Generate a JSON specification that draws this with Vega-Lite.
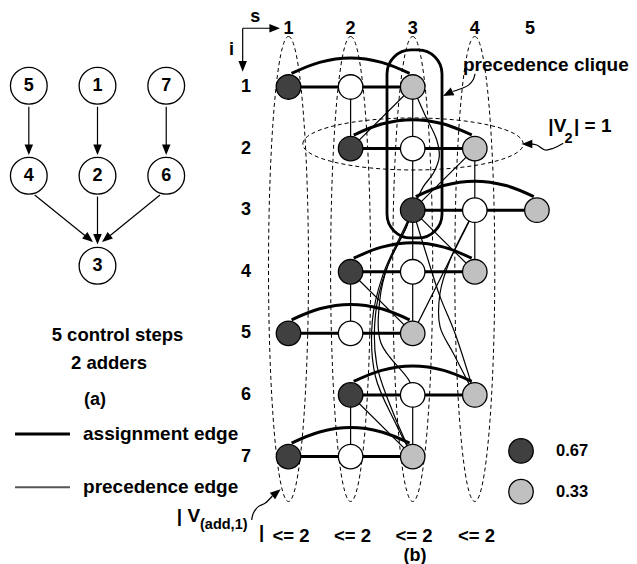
{
  "$schema": "https://vega.github.io/schema/vega-lite/v6.json",
  "width": 637,
  "height": 564,
  "padding": 0,
  "autosize": {"type": "none"},
  "background": "white",
  "config": {"view": {"stroke": null}, "text": {"font": "Liberation Sans", "fontWeight": "bold", "color": "black"}},
  "datasets": {
    "grid": [
      {"x": 1, "y": 1, "k": "dark"}, {"x": 2, "y": 1, "k": "white"}, {"x": 3, "y": 1, "k": "gray"},
      {"x": 2, "y": 2, "k": "dark"}, {"x": 3, "y": 2, "k": "white"}, {"x": 4, "y": 2, "k": "gray"},
      {"x": 3, "y": 3, "k": "dark"}, {"x": 4, "y": 3, "k": "white"}, {"x": 5, "y": 3, "k": "gray"},
      {"x": 2, "y": 4, "k": "dark"}, {"x": 3, "y": 4, "k": "white"}, {"x": 4, "y": 4, "k": "gray"},
      {"x": 1, "y": 5, "k": "dark"}, {"x": 2, "y": 5, "k": "white"}, {"x": 3, "y": 5, "k": "gray"},
      {"x": 2, "y": 6, "k": "dark"}, {"x": 3, "y": 6, "k": "white"}, {"x": 4, "y": 6, "k": "gray"},
      {"x": 1, "y": 7, "k": "dark"}, {"x": 2, "y": 7, "k": "white"}, {"x": 3, "y": 7, "k": "gray"},
      {"x": 4.744, "y": 6.909, "k": "dark"}, {"x": 4.744, "y": 7.57, "k": "gray"}
    ],
    "dag": [
      {"x": -3.182, "y": 0.981, "t": "5"}, {"x": -2.076, "y": 0.981, "t": "1"}, {"x": -0.969, "y": 0.981, "t": "7"},
      {"x": -3.182, "y": 2.442, "t": "4"}, {"x": -2.076, "y": 2.442, "t": "2"}, {"x": -0.969, "y": 2.442, "t": "6"},
      {"x": -2.076, "y": 3.903, "t": "3"}
    ],
    "thick": [
      {"x": 1, "y": 1, "x2": 3, "y2": 1}, {"x": 2, "y": 2, "x2": 4, "y2": 2}, {"x": 3, "y": 3, "x2": 5, "y2": 3},
      {"x": 2, "y": 4, "x2": 4, "y2": 4}, {"x": 1, "y": 5, "x2": 3, "y2": 5}, {"x": 2, "y": 6, "x2": 4, "y2": 6},
      {"x": 1, "y": 7, "x2": 3, "y2": 7},
      {"x": -3.404, "y": 6.633, "x2": -2.519, "y2": 6.633}
    ],
    "thin": [
      {"x": 2, "y": 1, "x2": 2, "y2": 2}, {"x": 3, "y": 1, "x2": 3, "y2": 2}, {"x": 3, "y": 1, "x2": 2, "y2": 2},
      {"x": 3, "y": 2, "x2": 3, "y2": 3}, {"x": 4, "y": 2, "x2": 4, "y2": 3}, {"x": 4, "y": 2, "x2": 3, "y2": 3},
      {"x": 3, "y": 3, "x2": 3, "y2": 4}, {"x": 3, "y": 3, "x2": 4, "y2": 4}, {"x": 4, "y": 3, "x2": 4, "y2": 4},
      {"x": 2, "y": 4, "x2": 2, "y2": 5}, {"x": 2, "y": 4, "x2": 3, "y2": 5}, {"x": 3, "y": 4, "x2": 3, "y2": 5},
      {"x": 4, "y": 3, "x2": 3, "y2": 5},
      {"x": 2, "y": 6, "x2": 2, "y2": 7}, {"x": 2, "y": 6, "x2": 3, "y2": 7}, {"x": 3, "y": 6, "x2": 3, "y2": 7},
      {"x": 0.262, "y": 0.047, "x2": 0.8, "y2": 0.047}, {"x": 0.262, "y": 0.047, "x2": 0.262, "y2": 0.7},
      {"x": -3.182, "y": 1.321, "x2": -3.182, "y2": 2.07}, {"x": -2.076, "y": 1.321, "x2": -2.076, "y2": 2.07},
      {"x": -0.969, "y": 1.321, "x2": -0.969, "y2": 2.07},
      {"x": -3.087, "y": 2.753, "x2": -2.17, "y2": 3.5}, {"x": -2.076, "y": 2.779, "x2": -2.076, "y2": 3.52},
      {"x": -1.069, "y": 2.753, "x2": -1.98, "y2": 3.5}
    ],
    "legline": [{"x": -3.404, "y": 7.498, "x2": -2.519, "y2": 7.498}],
    "curves": [
      {"id": "c1", "k": 0, "x": 3.0, "y": 1.0}, {"id": "c1", "k": 1, "x": 3.198, "y": 1.455}, {"id": "c1", "k": 2, "x": 3.387, "y": 1.86},
      {"id": "c1", "k": 3, "x": 3.428, "y": 2.131}, {"id": "c1", "k": 4, "x": 3.332, "y": 2.401}, {"id": "c1", "k": 5, "x": 3.171, "y": 2.618},
      {"id": "c1", "k": 6, "x": 3.0, "y": 3.0},
      {"id": "c2", "k": 0, "x": 3.0, "y": 3.0}, {"id": "c2", "k": 1, "x": 2.903, "y": 3.268}, {"id": "c2", "k": 2, "x": 2.6, "y": 3.9},
      {"id": "c2", "k": 3, "x": 2.47, "y": 4.46}, {"id": "c2", "k": 4, "x": 2.49, "y": 5.16}, {"id": "c2", "k": 5, "x": 2.95, "y": 5.78},
      {"id": "c2", "k": 6, "x": 3.0, "y": 6.0},
      {"id": "c3", "k": 0, "x": 3.0, "y": 3.0}, {"id": "c3", "k": 1, "x": 2.88, "y": 3.3}, {"id": "c3", "k": 2, "x": 2.56, "y": 4.0},
      {"id": "c3", "k": 3, "x": 2.4, "y": 4.7}, {"id": "c3", "k": 4, "x": 2.42, "y": 5.5}, {"id": "c3", "k": 5, "x": 2.69, "y": 6.3},
      {"id": "c3", "k": 6, "x": 3.0, "y": 7.0},
      {"id": "c6", "k": 0, "x": 3.0, "y": 3.0}, {"id": "c6", "k": 1, "x": 2.86, "y": 3.3}, {"id": "c6", "k": 2, "x": 2.52, "y": 4.05},
      {"id": "c6", "k": 3, "x": 2.35, "y": 4.8}, {"id": "c6", "k": 4, "x": 2.4, "y": 5.7}, {"id": "c6", "k": 5, "x": 2.72, "y": 6.45},
      {"id": "c6", "k": 6, "x": 3.0, "y": 7.0},
      {"id": "c4", "k": 0, "x": 3.0, "y": 3.0}, {"id": "c4", "k": 1, "x": 3.198, "y": 3.646}, {"id": "c4", "k": 2, "x": 3.44, "y": 4.404},
      {"id": "c4", "k": 3, "x": 3.681, "y": 4.998}, {"id": "c4", "k": 4, "x": 4.0, "y": 6.0},
      {"id": "c5", "k": 0, "x": 4.0, "y": 3.0}, {"id": "c5", "k": 1, "x": 3.601, "y": 3.808}, {"id": "c5", "k": 2, "x": 3.44, "y": 4.349},
      {"id": "c5", "k": 3, "x": 3.44, "y": 4.891}, {"id": "c5", "k": 4, "x": 3.654, "y": 5.323}, {"id": "c5", "k": 5, "x": 4.0, "y": 6.0},
      {"id": "w1", "k": 0, "x": 4.003, "y": 0.789}, {"id": "w1", "k": 1, "x": 3.976, "y": 0.88}, {"id": "w1", "k": 2, "x": 3.9, "y": 0.97},
      {"id": "w1", "k": 3, "x": 3.8, "y": 1.02}, {"id": "w1", "k": 4, "x": 3.65, "y": 1.07},
      {"id": "w2", "k": 0, "x": 5.425, "y": 1.914}, {"id": "w2", "k": 1, "x": 5.264, "y": 1.995}, {"id": "w2", "k": 2, "x": 5.131, "y": 2.023},
      {"id": "w2", "k": 3, "x": 4.997, "y": 1.942}, {"id": "w2", "k": 4, "x": 4.9, "y": 1.925},
      {"id": "w3", "k": 0, "x": 0.407, "y": 8.029}, {"id": "w3", "k": 1, "x": 0.433, "y": 7.92}, {"id": "w3", "k": 2, "x": 0.514, "y": 7.813},
      {"id": "w3", "k": 3, "x": 0.622, "y": 7.758}, {"id": "w3", "k": 4, "x": 0.74, "y": 7.64}
    ],
    "arcs": [
      {"id": "r1", "k": 0, "x": 1.05, "y": 0.78}, {"id": "r1", "k": 1, "x": 1.5, "y": 0.6}, {"id": "r1", "k": 2, "x": 2, "y": 0.53}, {"id": "r1", "k": 3, "x": 2.5, "y": 0.6}, {"id": "r1", "k": 4, "x": 2.95, "y": 0.78},
      {"id": "r2", "k": 0, "x": 2.05, "y": 1.78}, {"id": "r2", "k": 1, "x": 2.5, "y": 1.6}, {"id": "r2", "k": 2, "x": 3, "y": 1.53}, {"id": "r2", "k": 3, "x": 3.5, "y": 1.6}, {"id": "r2", "k": 4, "x": 3.95, "y": 1.78},
      {"id": "r3", "k": 0, "x": 3.05, "y": 2.78}, {"id": "r3", "k": 1, "x": 3.5, "y": 2.6}, {"id": "r3", "k": 2, "x": 4, "y": 2.53}, {"id": "r3", "k": 3, "x": 4.5, "y": 2.6}, {"id": "r3", "k": 4, "x": 4.95, "y": 2.78},
      {"id": "r4", "k": 0, "x": 2.05, "y": 3.78}, {"id": "r4", "k": 1, "x": 2.5, "y": 3.6}, {"id": "r4", "k": 2, "x": 3, "y": 3.53}, {"id": "r4", "k": 3, "x": 3.5, "y": 3.6}, {"id": "r4", "k": 4, "x": 3.95, "y": 3.78},
      {"id": "r5", "k": 0, "x": 1.05, "y": 4.78}, {"id": "r5", "k": 1, "x": 1.5, "y": 4.6}, {"id": "r5", "k": 2, "x": 2, "y": 4.53}, {"id": "r5", "k": 3, "x": 2.5, "y": 4.6}, {"id": "r5", "k": 4, "x": 2.95, "y": 4.78},
      {"id": "r6", "k": 0, "x": 2.05, "y": 5.78}, {"id": "r6", "k": 1, "x": 2.5, "y": 5.6}, {"id": "r6", "k": 2, "x": 3, "y": 5.53}, {"id": "r6", "k": 3, "x": 3.5, "y": 5.6}, {"id": "r6", "k": 4, "x": 3.95, "y": 5.78},
      {"id": "r7", "k": 0, "x": 1.05, "y": 6.78}, {"id": "r7", "k": 1, "x": 1.5, "y": 6.6}, {"id": "r7", "k": 2, "x": 2, "y": 6.53}, {"id": "r7", "k": 3, "x": 2.5, "y": 6.6}, {"id": "r7", "k": 4, "x": 2.95, "y": 6.78}
    ],
    "heads": [
      {"x": -3.182, "y": 2.104, "dir": 0}, {"x": -2.076, "y": 2.104, "dir": 0}, {"x": -0.969, "y": 2.104, "dir": 0},
      {"x": -2.148, "y": 3.516, "dir": 309}, {"x": -2.076, "y": 3.557, "dir": 0}, {"x": -2.003, "y": 3.516, "dir": 51},
      {"x": 0.863, "y": 0.047, "dir": 270}, {"x": 0.262, "y": 0.752, "dir": 0},
      {"x": 3.488, "y": 1.146, "dir": 64}, {"x": 4.755, "y": 1.925, "dir": 90}, {"x": 0.874, "y": 7.531, "dir": 231}
    ],
    "ellv": [{"x": 1, "y": 3.955}, {"x": 2, "y": 3.955}, {"x": 3, "y": 3.955}, {"x": 4, "y": 3.955}],
    "ellh": [{"x": 3.005, "y": 1.925}],
    "clique": [{"x": 2.586, "x2": 3.472, "y": 0.399, "y2": 3.451}],
    "t18c": [
      {"x": 1, "y": 0.063, "t": "1"}, {"x": 2, "y": 0.063, "t": "2"}, {"x": 3, "y": 0.063, "t": "3"}, {"x": 4, "y": 0.063, "t": "4"}, {"x": 4.889, "y": 0.063, "t": "5"},
      {"x": 0.316, "y": 1, "t": "1"}, {"x": 0.316, "y": 2, "t": "2"}, {"x": 0.316, "y": 3, "t": "3"}, {"x": 0.316, "y": 4, "t": "4"},
      {"x": 0.316, "y": 5, "t": "5"}, {"x": 0.316, "y": 6, "t": "6"}, {"x": 0.316, "y": 7, "t": "7"},
      {"x": 0.465, "y": -0.141, "t": "s"}, {"x": 0.082, "y": 0.399, "t": "i"},
      {"x": -3.182, "y": 0.981, "t": "5"}, {"x": -2.076, "y": 0.981, "t": "1"}, {"x": -0.969, "y": 0.981, "t": "7"},
      {"x": -3.182, "y": 2.442, "t": "4"}, {"x": -2.076, "y": 2.442, "t": "2"}, {"x": -0.969, "y": 2.442, "t": "6"},
      {"x": -2.076, "y": 3.903, "t": "3"},
      {"x": 3.037, "y": 8.615, "t": "(b)"}, {"x": -2.116, "y": 6.081, "t": "(a)"}
    ],
    "t19c": [
      {"x": -1.754, "y": 5.026, "t": "5 control steps"}, {"x": -1.89, "y": 5.476, "t": "2 adders"},
      {"x": 1.04, "y": 8.29, "t": "<= 2"}, {"x": 2.031, "y": 8.29, "t": "<= 2"}, {"x": 3.021, "y": 8.29, "t": "<= 2"}, {"x": 4.027, "y": 8.29, "t": "<= 2"},
      {"x": 0.568, "y": 8.219, "t": "|"}
    ],
    "t19l": [
      {"x": 3.81, "y": 0.643, "t": "precedence clique"},
      {"x": -2.309, "y": 6.633, "t": "assignment edge"}, {"x": -2.309, "y": 7.498, "t": "precedence edge"},
      {"x": 5.184, "y": 1.633, "t": "|V"}, {"x": 5.597, "y": 1.633, "t": "| = 1"},
      {"x": -0.799, "y": 7.964, "t": "| V"}
    ],
    "tsub": [{"x": 5.444, "y": 1.844, "t": "2"}, {"x": -0.425, "y": 8.11, "t": "(add,1)"}],
    "t16l": [{"x": 5.307, "y": 6.909, "t": "0.67"}, {"x": 5.307, "y": 7.57, "t": "0.33"}]
  },
  "encoding": {
    "x": {"field": "x", "type": "quantitative", "scale": {"domain": [-3.646, 6.612], "nice": false, "zero": false}, "axis": null},
    "y": {"field": "y", "type": "quantitative", "scale": {"domain": [-0.412, 8.744], "nice": false, "zero": false, "reverse": true}, "axis": null}
  },
  "layer": [
    {"data": {"name": "ellv"}, "mark": {"type": "point", "shape": "M0,-1C0.0475,-1 0.086,-0.5523 0.086,0C0.086,0.5523 0.0475,1 0,1C-0.0475,1 -0.086,0.5523 -0.086,0C-0.086,-0.5523 -0.0475,-1 0,-1Z", "size": 216225, "filled": false, "color": "black", "strokeWidth": 1, "strokeDash": [4, 3], "opacity": 1}},
    {"data": {"name": "ellh"}, "mark": {"type": "point", "shape": "M-1,0C-1,-0.1303 -0.5523,-0.236 0,-0.236C0.5523,-0.236 1,-0.1303 1,0C1,0.1303 0.5523,0.236 0,0.236C-0.5523,0.236 -1,0.1303 -1,0Z", "size": 48576, "filled": false, "color": "black", "strokeWidth": 1, "strokeDash": [4, 3], "opacity": 1}},
    {"data": {"name": "thin"}, "mark": {"type": "rule", "color": "black", "strokeWidth": 1.2}, "encoding": {"x2": {"field": "x2"}, "y2": {"field": "y2"}}},
    {"data": {"name": "curves"}, "mark": {"type": "line", "interpolate": "catmull-rom", "color": "black", "strokeWidth": 1.2}, "encoding": {"detail": {"field": "id"}, "order": {"field": "k", "type": "quantitative"}}},
    {"data": {"name": "legline"}, "mark": {"type": "rule", "color": "#555555", "strokeWidth": 1.8}, "encoding": {"x2": {"field": "x2"}, "y2": {"field": "y2"}}},
    {"data": {"name": "thick"}, "mark": {"type": "rule", "color": "black", "strokeWidth": 3}, "encoding": {"x2": {"field": "x2"}, "y2": {"field": "y2"}}},
    {"data": {"name": "arcs"}, "mark": {"type": "line", "interpolate": "catmull-rom", "color": "black", "strokeWidth": 3}, "encoding": {"detail": {"field": "id"}, "order": {"field": "k", "type": "quantitative"}}},
    {"data": {"name": "clique"}, "mark": {"type": "rect", "filled": false, "color": "black", "strokeWidth": 2.8, "cornerRadius": 24}, "encoding": {"x2": {"field": "x2"}, "y2": {"field": "y2"}}},
    {"data": {"name": "heads"}, "mark": {"type": "point", "shape": "M0,0L-0.4,-1L0.4,-1Z", "size": 450, "filled": true, "color": "black", "opacity": 1}, "encoding": {"angle": {"field": "dir", "type": "quantitative", "scale": {"domain": [0, 360], "range": [0, 360]}}}},
    {"data": {"name": "dag"}, "mark": {"type": "point", "shape": "circle", "size": 1350, "filled": true, "fill": "white", "stroke": "black", "strokeWidth": 1.3, "opacity": 1}},
    {"data": {"name": "grid"}, "mark": {"type": "point", "shape": "circle", "size": 600, "filled": true, "stroke": "black", "strokeWidth": 1.3, "opacity": 1}, "encoding": {"fill": {"field": "k", "type": "nominal", "scale": {"domain": ["dark", "white", "gray"], "range": ["#404040", "#ffffff", "#c0c0c0"]}, "legend": null}}},
    {"data": {"name": "t18c"}, "mark": {"type": "text", "fontSize": 18, "align": "center", "baseline": "middle"}, "encoding": {"text": {"field": "t"}}},
    {"data": {"name": "t19c"}, "mark": {"type": "text", "fontSize": 18.5, "align": "center", "baseline": "middle"}, "encoding": {"text": {"field": "t"}}},
    {"data": {"name": "t19l"}, "mark": {"type": "text", "fontSize": 19, "align": "left", "baseline": "middle"}, "encoding": {"text": {"field": "t"}}},
    {"data": {"name": "tsub"}, "mark": {"type": "text", "fontSize": 14.5, "align": "left", "baseline": "middle"}, "encoding": {"text": {"field": "t"}}},
    {"data": {"name": "t16l"}, "mark": {"type": "text", "fontSize": 16.5, "align": "left", "baseline": "middle"}, "encoding": {"text": {"field": "t"}}}
  ]
}
